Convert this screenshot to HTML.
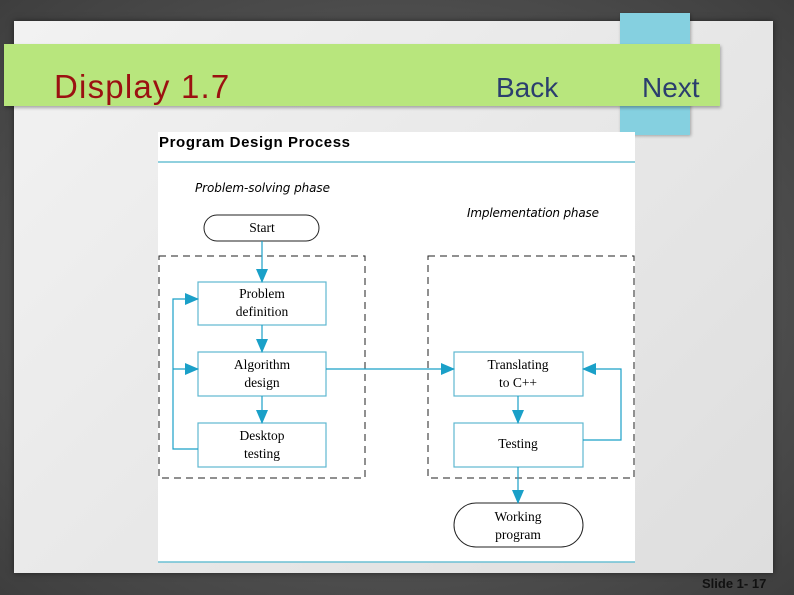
<!DOCTYPE html>
<html><head><style>
body{margin:0;width:794px;height:595px;overflow:hidden;background:radial-gradient(ellipse at center,#6a6a6a,#3e3e3e);font-family:"Liberation Sans",sans-serif;position:relative}
.panel{position:absolute;left:14px;top:21px;width:759px;height:552px;background:linear-gradient(135deg,#f2f2f2,#dedede);box-shadow:0 0 6px rgba(0,0,0,.5)}
.tab{position:absolute;left:620px;top:13px;width:70px;height:122px;background:#85d0e0;box-shadow:1px 1px 3px rgba(0,0,0,.3)}
.bar{position:absolute;left:4px;top:44px;width:716px;height:62px;background:#b8e67d;box-shadow:1px 2px 3px rgba(0,0,0,.3)}
.t{position:absolute;font-size:31px;top:70px}
</style></head><body>
<div class="panel"></div>
<div class="tab"></div>
<div class="bar"></div>
<div class="t" style="left:54px;color:#9b1111;font-size:33px;top:68px;letter-spacing:1.2px">Display 1.7</div>
<div class="t" style="left:496px;color:#2b3e6e;font-size:28px;top:72px">Back</div>
<div class="t" style="left:642px;color:#2b3e6e;font-size:28px;top:72px">Next</div>
<svg style="position:absolute;left:0;top:0" width="794" height="595">
<defs><marker id="a" markerWidth="14" markerHeight="14" refX="13" refY="7" orient="auto" markerUnits="userSpaceOnUse"><path d="M0,1 L14,7 L0,13 z" fill="#1aa0c8"/></marker></defs>
<rect x="158" y="132" width="477" height="430" fill="#fff"/>
<text x="159" y="147" font-family="Liberation Sans" font-weight="bold" font-size="15" textLength="191">Program Design Process</text>
<line x1="158" y1="162" x2="635" y2="162" stroke="#6cc0d4" stroke-width="1.5"/>
<line x1="158" y1="562" x2="635" y2="562" stroke="#6cc0d4" stroke-width="1.5"/>
<text x="195" y="192" font-style="italic" font-size="12" font-family="DejaVu Sans" textLength="135">Problem-solving phase</text>
<text x="467" y="217" font-style="italic" font-size="12" font-family="DejaVu Sans" textLength="132">Implementation phase</text>
<g fill="none" stroke="#222" stroke-dasharray="7,5">
<rect x="159" y="256" width="206" height="222"/><rect x="428" y="256" width="206" height="222"/></g>
<rect x="204" y="215" width="115" height="26" rx="13" fill="#fff" stroke="#222"/>
<rect x="454" y="503" width="129" height="44" rx="22" fill="#fff" stroke="#222"/>
<g fill="#fff" stroke="#5fb8d0" stroke-width="1.2">
<rect x="198" y="282" width="128" height="43"/><rect x="198" y="352" width="128" height="44"/><rect x="198" y="423" width="128" height="44"/>
<rect x="454" y="352" width="129" height="44"/><rect x="454" y="423" width="129" height="44"/></g>
<g stroke="#1aa0c8" stroke-width="1.2" fill="none">
<line x1="262" y1="241" x2="262" y2="282" marker-end="url(#a)"/>
<line x1="262" y1="325" x2="262" y2="352" marker-end="url(#a)"/>
<line x1="262" y1="396" x2="262" y2="423" marker-end="url(#a)"/>
<polyline points="198,449 173,449 173,299 198,299" marker-end="url(#a)"/>
<line x1="173" y1="369" x2="198" y2="369" marker-end="url(#a)"/>
<line x1="326" y1="369" x2="454" y2="369" marker-end="url(#a)"/>
<line x1="518" y1="396" x2="518" y2="423" marker-end="url(#a)"/>
<line x1="518" y1="467" x2="518" y2="503" marker-end="url(#a)"/>
<polyline points="583,440 621,440 621,369 583,369" marker-end="url(#a)"/>
</g>
<g font-family="Liberation Serif" font-size="13.5" text-anchor="middle">
<text x="262" y="232">Start</text>
<text x="262" y="298">Problem</text><text x="262" y="316">definition</text>
<text x="262" y="369">Algorithm</text><text x="262" y="387">design</text>
<text x="262" y="440">Desktop</text><text x="262" y="458">testing</text>
<text x="518" y="369">Translating</text><text x="518" y="387">to C++</text>
<text x="518" y="448">Testing</text>
<text x="518" y="521">Working</text><text x="518" y="539">program</text>
</g>
<text x="702" y="588" font-weight="bold" font-size="13" fill="#111">Slide 1- 17</text>
</svg>
</body></html>
